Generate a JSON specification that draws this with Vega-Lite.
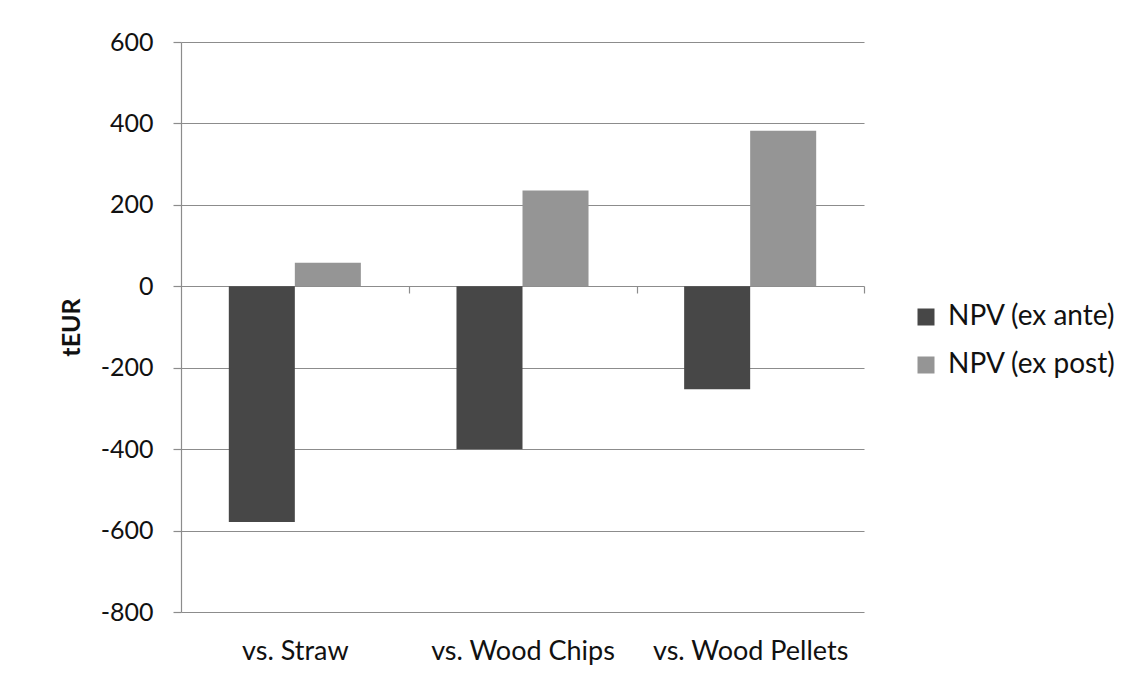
{
  "$schema": "https://vega.github.io/schema/vega-lite/v6.json",
  "autosize": {"type": "none"},
  "padding": {"left": 181, "top": 42, "right": 277, "bottom": 77},
  "width": 683,
  "height": 570,
  "background": "white",
  "data": {
    "values": [
      {"category": "vs. Straw", "series": "NPV (ex ante)", "value": -579},
      {"category": "vs. Straw", "series": "NPV (ex post)", "value": 58},
      {"category": "vs. Wood Chips", "series": "NPV (ex ante)", "value": -400},
      {"category": "vs. Wood Chips", "series": "NPV (ex post)", "value": 235},
      {"category": "vs. Wood Pellets", "series": "NPV (ex ante)", "value": -253},
      {"category": "vs. Wood Pellets", "series": "NPV (ex post)", "value": 382}
    ]
  },
  "mark": {"type": "bar"},
  "encoding": {
    "x": {
      "field": "category",
      "type": "nominal",
      "sort": null,
      "scale": {"paddingInner": 0.42, "paddingOuter": 0.21},
      "axis": {
        "title": null,
        "labelAngle": 0,
        "offset": -326,
        "domain": false,
        "ticks": true,
        "tickOffset": 114,
        "labelOffset": -114,
        "tickSize": 7,
        "tickColor": "#8c8c8c",
        "labelPadding": 345,
        "labelFont": "Lato",
        "labelFontSize": 27,
        "labelLimit": 0,
        "labelColor": "#111111",
        "grid": false
      }
    },
    "xOffset": {"field": "series", "type": "nominal", "scale": {"paddingInner": 0, "paddingOuter": 0}},
    "y": {
      "field": "value",
      "type": "quantitative",
      "scale": {"domain": [-800, 600], "nice": false},
      "axis": {
        "values": [-800, -600, -400, -200, 0, 200, 400, 600],
        "labelExpr": "'' + datum.value",
        "title": "tEUR",
        "titleFont": "Lato",
        "titleFontSize": 25,
        "titleFontWeight": "bold",
        "titleColor": "#111111",
        "titlePadding": 16,
        "labelFont": "Lato",
        "labelFontSize": 25,
        "labelColor": "#111111",
        "labelPadding": 20,
        "tickSize": 8,
        "tickColor": "#8c8c8c",
        "domainColor": "#8c8c8c",
        "gridColor": "#8c8c8c",
        "grid": true
      }
    },
    "color": {
      "field": "series",
      "type": "nominal",
      "scale": {"domain": ["NPV (ex ante)", "NPV (ex post)"], "range": ["#474747", "#959595"]},
      "legend": {
        "title": null,
        "orient": "none",
        "legendX": 731,
        "legendY": 261,
        "symbolType": "square",
        "symbolSize": 289,
        "symbolStrokeWidth": 0,
        "labelFont": "Lato",
        "labelFontSize": 28,
        "labelLimit": 0,
        "labelColor": "#111111",
        "labelOffset": 8,
        "rowPadding": 20
      }
    }
  },
  "config": {
    "view": {"stroke": null},
    "axis": {"gridWidth": 1.2, "domainWidth": 1.2, "tickWidth": 1.2}
  }
}
